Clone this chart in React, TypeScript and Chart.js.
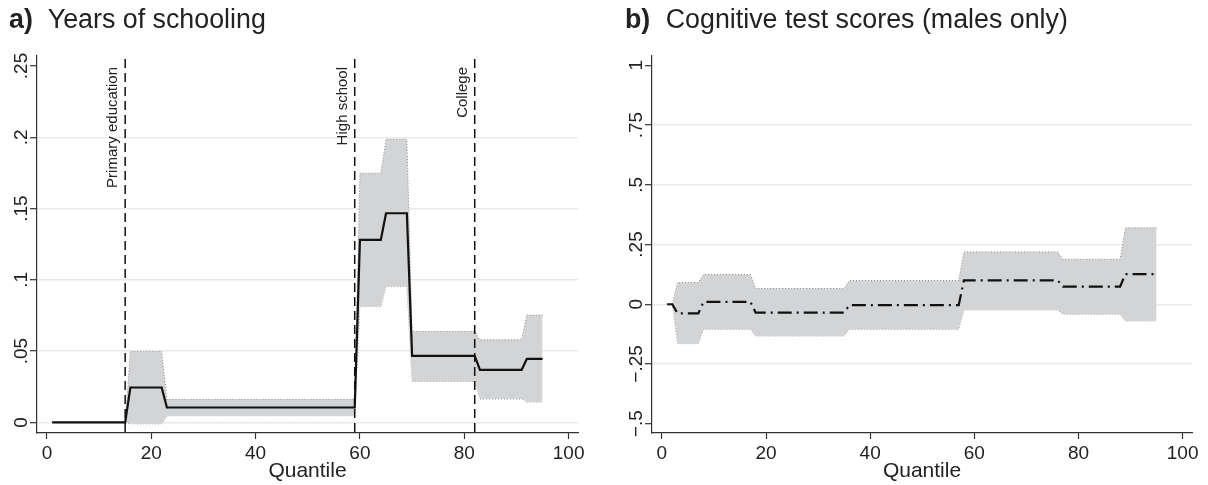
import React, { useEffect, useRef } from 'react';
import { Chart, registerables } from 'chart.js';

Chart.register(...registerables);

const FONT = '"Liberation Sans", Arial, Helvetica, sans-serif';

// ---------- Panel a) Years of schooling ----------
const schoolingQuantiles = [1, 15, 16, 22, 23, 59, 60, 64, 65, 69, 70, 82, 83, 91, 92, 95];
const schoolingEstimate = [0, 0, 0.0245, 0.0245, 0.0105, 0.0105, 0.128, 0.128, 0.1467, 0.1467, 0.0467, 0.0467, 0.0369, 0.0369, 0.0446, 0.0446];
const schoolingBandQuantiles = [15, 16, 22, 23, 59, 60, 64, 65, 69, 70, 82, 83, 91, 92, 95];
const schoolingUpper = [0, 0.0497, 0.0497, 0.0162, 0.0162, 0.1748, 0.1748, 0.1986, 0.1986, 0.0638, 0.0638, 0.058, 0.058, 0.0753, 0.0753];
const schoolingLower = [0, -0.001, -0.001, 0.0047, 0.0047, 0.0813, 0.0813, 0.0953, 0.0953, 0.0287, 0.0287, 0.0164, 0.0164, 0.0143, 0.0143];
const schoolingYTicks = [0, 0.05, 0.1, 0.15, 0.2, 0.25];
const schoolingYTickLabels = ['0', '.05', '.1', '.15', '.2', '.25'];
const thresholdQuantiles = [15, 59, 82];
const thresholdLabels = ['Primary education', 'High school', 'College'];

// ---------- Panel b) Cognitive test scores ----------
const cognitiveQuantiles = [1, 2, 3, 7, 8, 17, 18, 35, 36, 57, 58, 76, 77, 88, 89, 95];
const cognitiveEstimate = [0, 0, -0.038, -0.038, 0.01, 0.01, -0.035, -0.035, -0.004, -0.004, 0.1, 0.1, 0.074, 0.074, 0.126, 0.126];
const cognitiveBandQuantiles = [2, 3, 7, 8, 17, 18, 35, 36, 57, 58, 76, 77, 88, 89, 95];
const cognitiveUpper = [0, 0.091, 0.091, 0.124, 0.124, 0.0657, 0.0657, 0.099, 0.099, 0.219, 0.219, 0.1885, 0.1885, 0.32, 0.32];
const cognitiveLower = [0, -0.165, -0.165, -0.105, -0.105, -0.133, -0.133, -0.105, -0.105, -0.024, -0.024, -0.042, -0.042, -0.07, -0.07];
const cognitiveYTicks = [-0.5, -0.25, 0, 0.25, 0.5, 0.75, 1];
const cognitiveYTickLabels = ['\u2212.5', '\u2212.25', '0', '.25', '.5', '.75', '1'];

const xTicks = [0, 20, 40, 60, 80, 100];

const AXIS_COLOR = '#333';
const TEXT_COLOR = '#222';
const GRID_COLOR = '#e9e9e9';
const BAND_FILL = '#d3d4d6';
const BAND_EDGE = '#8a8a8a';

type PanelSpec = {
  width: number;
  yMin: number;
  yMax: number;
  yAxisWidth: number;
  padRight: number;
  quantiles: number[];
  estimate: number[];
  bandQuantiles: number[];
  upper: number[];
  lower: number[];
  yTicks: number[];
  yTickLabels: string[];
  hiddenGrid: number[];
  lineDash: number[];
  vlines: number[];
  vlineLabels: string[];
};

const pts = (xs: number[], ys: number[]) => xs.map((x, i) => ({ x, y: ys[i] }));

function makePlugin(spec: PanelSpec) {
  return {
    id: 'stataAxis',
    afterDatasetsDraw(chart: any) {
      const { ctx, chartArea, scales } = chart;
      ctx.save();
      spec.vlines.forEach((q, i) => {
        const px = scales.x.getPixelForValue(q);
        ctx.beginPath();
        ctx.setLineDash([9, 5]);
        ctx.lineWidth = 1.5;
        ctx.strokeStyle = '#111';
        ctx.moveTo(px, chartArea.top + 3);
        ctx.lineTo(px, chartArea.bottom);
        ctx.stroke();
        ctx.setLineDash([]);
        ctx.save();
        ctx.translate(px - 8, chartArea.top + 11);
        ctx.rotate(-Math.PI / 2);
        ctx.font = `15px ${FONT}`;
        ctx.fillStyle = TEXT_COLOR;
        ctx.textAlign = 'right';
        ctx.textBaseline = 'alphabetic';
        ctx.fillText(spec.vlineLabels[i], 0, 0);
        ctx.restore();
      });
      ctx.restore();
    },
    afterDraw(chart: any) {
      const { ctx, chartArea, scales } = chart;
      ctx.save();
      ctx.font = `19px ${FONT}`;
      ctx.fillStyle = TEXT_COLOR;
      ctx.textAlign = 'center';
      ctx.textBaseline = 'alphabetic';
      spec.yTicks.forEach((v, i) => {
        const py = scales.y.getPixelForValue(v);
        ctx.save();
        ctx.translate(chartArea.left - 10, py);
        ctx.rotate(-Math.PI / 2);
        ctx.fillText(spec.yTickLabels[i], 0, 0);
        ctx.restore();
      });
      ctx.restore();
    },
  };
}

function Panel({ spec }: { spec: PanelSpec }) {
  const ref = useRef<HTMLCanvasElement | null>(null);
  useEffect(() => {
    if (!ref.current) return;
    const chart = new Chart(ref.current, {
      type: 'line',
      data: {
        datasets: [
          {
            label: 'estimate',
            data: pts(spec.quantiles, spec.estimate),
            borderColor: '#111',
            borderWidth: 2.2,
            borderDash: spec.lineDash,
            pointRadius: 0,
            fill: false,
            tension: 0,
            order: 0,
          },
          {
            label: 'upper',
            data: pts(spec.bandQuantiles, spec.upper),
            borderColor: BAND_EDGE,
            borderWidth: 1,
            borderDash: [1, 2],
            pointRadius: 0,
            backgroundColor: BAND_FILL,
            fill: '+1',
            tension: 0,
            order: 1,
          },
          {
            label: 'lower',
            data: pts(spec.bandQuantiles, spec.lower),
            borderColor: BAND_EDGE,
            borderWidth: 1,
            borderDash: [1, 2],
            pointRadius: 0,
            fill: false,
            tension: 0,
            order: 2,
          },
        ],
      },
      options: {
        animation: false,
        responsive: false,
        events: [],
        layout: { padding: { top: 56, right: spec.padRight, bottom: 0, left: 0 } },
        plugins: {
          legend: { display: false },
          tooltip: { enabled: false },
        },
        scales: {
          x: {
            type: 'linear',
            min: -1.9,
            max: 101.8,
            afterBuildTicks: (s: any) => {
              s.ticks = xTicks.map((v) => ({ value: v }));
            },
            afterFit: (s: any) => {
              s.height = 52;
            },
            grid: { drawOnChartArea: false, drawTicks: true, tickLength: 6, tickColor: AXIS_COLOR, tickWidth: 1.2 },
            border: { color: AXIS_COLOR, width: 1.2 },
            ticks: {
              font: { family: FONT, size: 19 },
              color: TEXT_COLOR,
              padding: 3,
              maxRotation: 0,
              autoSkip: false,
            },
            title: {
              display: true,
              text: 'Quantile',
              font: { family: FONT, size: 21 },
              color: TEXT_COLOR,
              padding: { top: 0, bottom: 1 },
            },
          },
          y: {
            type: 'linear',
            min: spec.yMin,
            max: spec.yMax,
            afterBuildTicks: (s: any) => {
              s.ticks = spec.yTicks.map((v) => ({ value: v }));
            },
            afterFit: (s: any) => {
              s.width = spec.yAxisWidth;
            },
            grid: {
              color: (c: any) =>
                c.tick && spec.hiddenGrid.some((h) => Math.abs(h - c.tick.value) < 1e-9) ? 'rgba(0,0,0,0)' : GRID_COLOR,
              lineWidth: 1.4,
              drawTicks: true,
              tickLength: 7,
              tickColor: AXIS_COLOR,
              tickWidth: 1.2,
            },
            border: { color: AXIS_COLOR, width: 1.2 },
            ticks: { display: false },
          },
        },
      },
      plugins: [makePlugin(spec)],
    } as any);
    return () => chart.destroy();
  }, [spec]);
  return <canvas ref={ref} width={spec.width} height={485} style={{ display: 'block' }} />;
}

const panelA: PanelSpec = {
  width: 600,
  yMin: -0.0074,
  yMax: 0.257,
  yAxisWidth: 37,
  padRight: 22,
  quantiles: schoolingQuantiles,
  estimate: schoolingEstimate,
  bandQuantiles: schoolingBandQuantiles,
  upper: schoolingUpper,
  lower: schoolingLower,
  yTicks: schoolingYTicks,
  yTickLabels: schoolingYTickLabels,
  hiddenGrid: [0.25],
  lineDash: [],
  vlines: thresholdQuantiles,
  vlineLabels: thresholdLabels,
};

const panelB: PanelSpec = {
  width: 608,
  yMin: -0.539,
  yMax: 1.039,
  yAxisWidth: 52,
  padRight: 16,
  quantiles: cognitiveQuantiles,
  estimate: cognitiveEstimate,
  bandQuantiles: cognitiveBandQuantiles,
  upper: cognitiveUpper,
  lower: cognitiveLower,
  yTicks: cognitiveYTicks,
  yTickLabels: cognitiveYTickLabels,
  hiddenGrid: [-0.5, 1],
  lineDash: [14, 5, 2, 5],
  vlines: [],
  vlineLabels: [],
};

const titleStyle: React.CSSProperties = {
  position: 'absolute',
  top: 6,
  fontFamily: FONT,
  fontSize: 26.8,
  lineHeight: '27px',
  color: TEXT_COLOR,
  whiteSpace: 'nowrap',
};

const tagStyle: React.CSSProperties = { fontWeight: 'bold', marginRight: 8 };

export default function App() {
  return (
    <div style={{ position: 'absolute', left: 0, top: 0, width: 1208, height: 485, background: '#fff', overflow: 'hidden' }}>
      <div style={{ position: 'absolute', left: 0, top: 0 }}>
        <Panel spec={panelA} />
      </div>
      <div style={{ position: 'absolute', left: 600, top: 0 }}>
        <Panel spec={panelB} />
      </div>
      <div style={{ ...titleStyle, left: 9 }}>
        <span style={tagStyle}>a)</span> Years of schooling
      </div>
      <div style={{ ...titleStyle, left: 625 }}>
        <span style={tagStyle}>b)</span> Cognitive test scores (males only)
      </div>
    </div>
  );
}
